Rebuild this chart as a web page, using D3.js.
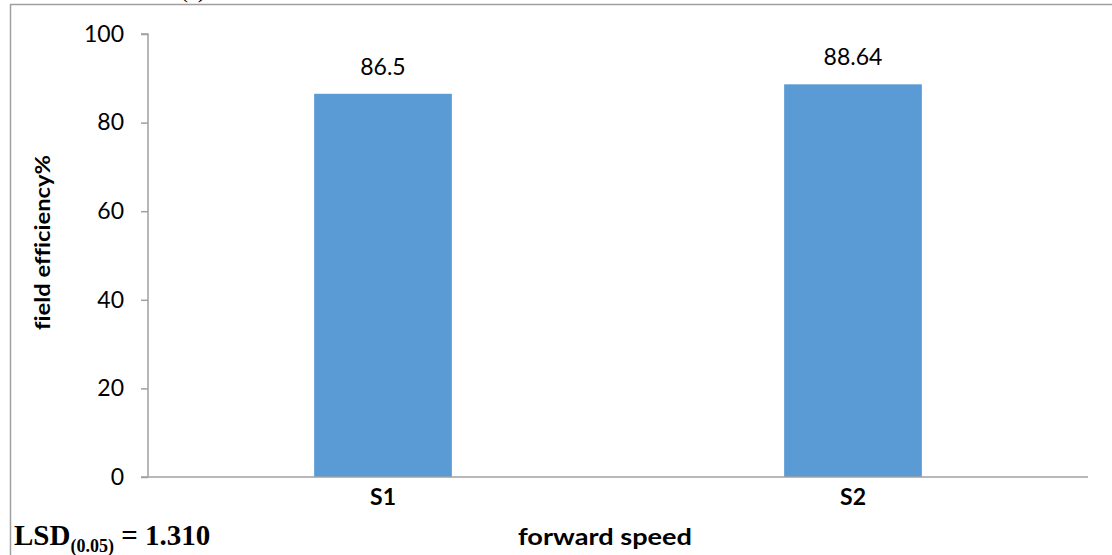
<!DOCTYPE html>
<html><head><meta charset="utf-8">
<script src="https://cdn.jsdelivr.net/npm/d3@7"></script>
<style>body{margin:0;background:#fff;}svg{display:block;}text{font-variant-ligatures:none;}</style>
</head><body>
<script>
const categories = ["S1", "S2"];
const values = [86.5, 88.64];
const valueLabels = ["86.5", "88.64"];
const yTicks = [0, 20, 40, 60, 80, 100];

const W = 1112, H = 555;
const svg = d3.select("body").append("svg").attr("width", W).attr("height", H);
svg.append("rect").attr("width", W).attr("height", H).attr("fill", "#fff");

// outer frame (extends beyond window right/bottom)
svg.append("rect").attr("x", 10.5).attr("y", 4.5).attr("width", 1200).attr("height", 600)
  .attr("fill", "none").attr("stroke", "#a0a0a0").attr("stroke-width", 1.5);
// cropped caption above frame
svg.append("text").attr("x", 193).attr("y", -2).attr("text-anchor", "middle")
  .attr("font-family", "Liberation Serif").attr("font-size", 22).text("(c)");

const x0 = 148, x1 = 1088, yTop = 34, yBot = 477;
const x = d3.scaleBand().domain(categories).range([x0, x1]).padding(0);
const y = d3.scaleLinear().domain([0, 100]).range([yBot, yTop]);
const barW = x.bandwidth() * 0.293;

const font = "Lato, 'Open Sans', sans-serif";

// y axis
const yAxis = svg.append("g").attr("transform", `translate(${x0},0)`)
  .call(d3.axisLeft(y).tickValues(yTicks).tickSize(7).tickPadding(17).tickFormat(d3.format("d")));
yAxis.select(".domain").attr("stroke", "#a0a0a0").attr("stroke-width", 1.5).attr("d", `M-7,${yTop}H0V${yBot}`);
yAxis.selectAll(".tick line").attr("stroke", "#a0a0a0").attr("stroke-width", 1.5);
yAxis.selectAll(".tick text").attr("font-family", font).attr("font-size", 23).attr("fill", "#000");

// bars
svg.selectAll(".bar").data(categories).enter().append("rect")
  .attr("x", (d) => x(d) + x.bandwidth() / 2 - barW / 2)
  .attr("y", (d, i) => y(values[i]))
  .attr("width", barW)
  .attr("height", (d, i) => yBot - y(values[i]))
  .attr("fill", "#5b9bd5");

// value labels
svg.selectAll(".vl").data(categories).enter().append("text")
  .attr("x", (d) => x(d) + x.bandwidth() / 2)
  .attr("y", (d, i) => y(values[i]) - 19)
  .attr("text-anchor", "middle").attr("font-family", font).attr("font-size", 23).attr("fill", "#000")
  .text((d, i) => valueLabels[i]);

// x axis
const xAxis = svg.append("g").attr("transform", `translate(0,${yBot})`)
  .call(d3.axisBottom(x).tickSize(0).tickPadding(12));
xAxis.select(".domain").attr("stroke", "#a0a0a0").attr("stroke-width", 1.5).attr("d", `M${x0 - 7},0H${x1}`);
xAxis.selectAll(".tick text").attr("font-family", font).attr("font-size", 23).attr("font-weight", "bold").attr("fill", "#000");

// axis titles
svg.append("text").attr("transform", "translate(50,242.5) rotate(-90)").attr("text-anchor", "middle")
  .attr("font-family", font).attr("font-size", 21).attr("font-weight", "bold")
  .attr("textLength", 175).attr("lengthAdjust", "spacingAndGlyphs").text("field efficiency%");
svg.append("text").attr("x", 605).attr("y", 545).attr("text-anchor", "middle")
  .attr("font-family", font).attr("font-size", 22).attr("font-weight", "bold")
  .attr("textLength", 174).attr("lengthAdjust", "spacingAndGlyphs").text("forward speed");

// LSD note
const lsd = svg.append("text").attr("x", 14).attr("y", 545)
  .attr("font-family", "Liberation Serif").attr("font-weight", "bold").attr("font-size", 29);
lsd.append("tspan").text("LSD");
lsd.append("tspan").attr("font-size", 18).attr("dy", 7).text("(0.05)");
lsd.append("tspan").attr("dy", -7).text(" = 1.310");
</script>
</body></html>
